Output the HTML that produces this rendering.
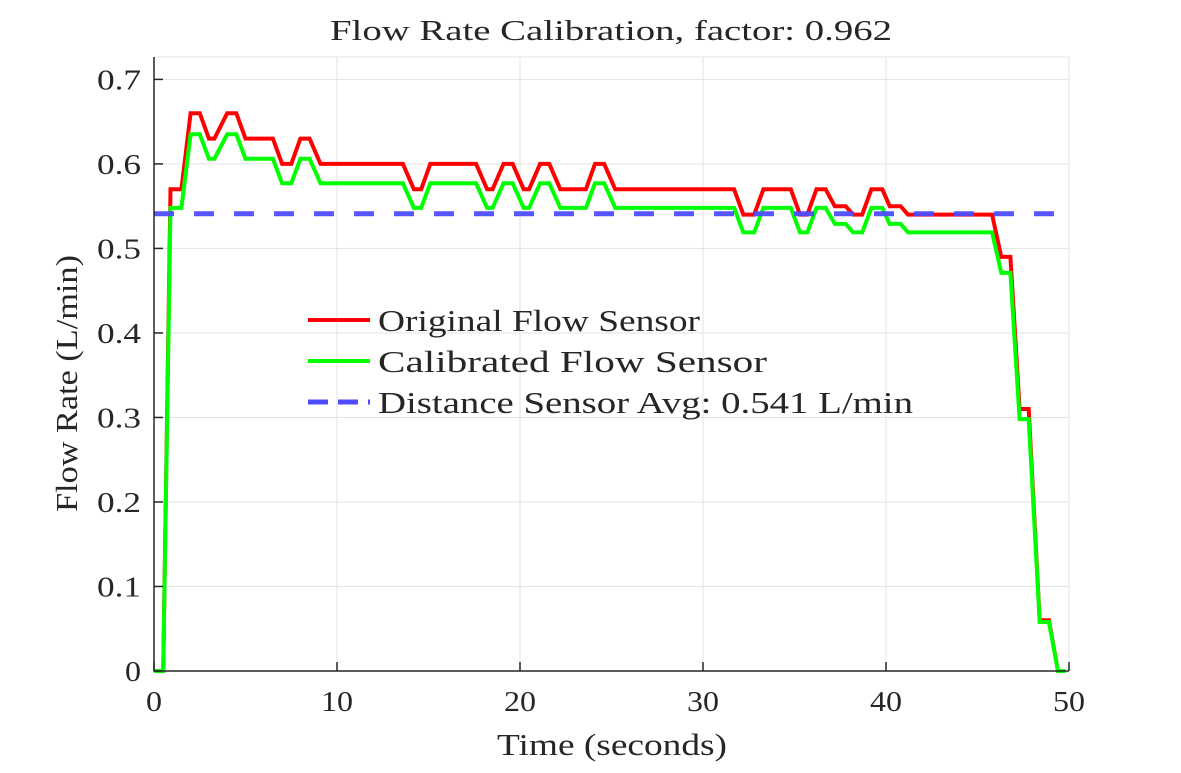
<!DOCTYPE html>
<html><head><meta charset="utf-8"><style>
body{margin:0;background:#fff;}
svg text{font-family:"Liberation Serif",serif;fill:#262626;}
</style></head><body>
<svg id="chart" width="1181" height="768" xmlns="http://www.w3.org/2000/svg">
<text x="330" y="40" font-size="29" textLength="562" lengthAdjust="spacingAndGlyphs">Flow Rate Calibration, factor: 0.962</text>
<g id="grid"></g>
<g id="series"></g>
<g id="axes"></g>
<text x="497" y="755" font-size="31" textLength="230" lengthAdjust="spacingAndGlyphs">Time (seconds)</text>
<text transform="translate(77,512) rotate(-90)" font-size="31" textLength="257" lengthAdjust="spacingAndGlyphs">Flow Rate (L/min)</text>
<g>
<line x1="308" y1="320" x2="370" y2="320" stroke="#ff0000" stroke-width="4"/>
<text x="378" y="331" font-size="31" textLength="322" lengthAdjust="spacingAndGlyphs">Original Flow Sensor</text>
<line x1="308" y1="361" x2="370" y2="361" stroke="#00ff00" stroke-width="4"/>
<text x="378" y="372" font-size="31" textLength="389" lengthAdjust="spacingAndGlyphs">Calibrated Flow Sensor</text>
<line x1="308" y1="402" x2="370" y2="402" stroke="#4d4dff" stroke-width="5" stroke-dasharray="20,10"/>
<text x="378" y="413" font-size="31" textLength="535" lengthAdjust="spacingAndGlyphs">Distance Sensor Avg: 0.541 L/min</text>
</g>
</svg>
<script>
const times = [0,0.5,0.9,1.5,2.0,2.5,3.0,3.3,4.0,4.5,5.0,6.5,7.0,7.5,8.0,8.5,9.1,13.6,14.2,14.6,15.1,17.6,18.2,18.5,19.1,19.6,20.2,20.5,21.1,21.6,22.2,23.6,24.1,24.6,25.2,31.7,32.2,32.8,33.3,34.8,35.3,35.7,36.2,36.7,37.2,37.8,38.2,38.7,39.2,39.8,40.2,40.8,41.2,45.8,46.3,46.8,47.3,47.8,48.4,48.9,49.4,49.8];
const original = [0,0,0.57,0.57,0.66,0.66,0.63,0.63,0.66,0.66,0.63,0.63,0.60,0.60,0.63,0.63,0.60,0.60,0.57,0.57,0.60,0.60,0.57,0.57,0.60,0.60,0.57,0.57,0.60,0.60,0.57,0.57,0.60,0.60,0.57,0.57,0.54,0.54,0.57,0.57,0.54,0.54,0.57,0.57,0.55,0.55,0.54,0.54,0.57,0.57,0.55,0.55,0.54,0.54,0.49,0.49,0.31,0.31,0.06,0.06,0,0];
const calibrated = [0,0,0.548,0.548,0.635,0.635,0.606,0.606,0.635,0.635,0.606,0.606,0.577,0.577,0.606,0.606,0.577,0.577,0.548,0.548,0.577,0.577,0.548,0.548,0.577,0.577,0.548,0.548,0.577,0.577,0.548,0.548,0.577,0.577,0.548,0.548,0.519,0.519,0.548,0.548,0.519,0.519,0.548,0.548,0.529,0.529,0.519,0.519,0.548,0.548,0.529,0.529,0.519,0.519,0.471,0.471,0.298,0.298,0.058,0.058,0,0];
const distanceAvg = [0.541];
const xTicks = [0,10,20,30,40,50];
const yTicks = [0,0.1,0.2,0.3,0.4,0.5,0.6,0.7];

const L=154,R=1069,T=57,B=671, X0=0,X1=50, Y0=0,Y1=0.7265;
const sx=v=>L+(v-X0)/(X1-X0)*(R-L);
const sy=v=>B-(v-Y0)/(Y1-Y0)*(B-T);
const NS='http://www.w3.org/2000/svg';
function mk(tag,attrs,parent){const e=document.createElementNS(NS,tag);for(const k in attrs)e.setAttribute(k,attrs[k]);parent.appendChild(e);return e;}
const grid=document.getElementById('grid'),axes=document.getElementById('axes'),series=document.getElementById('series');
mk('rect',{x:L,y:T,width:R-L,height:B-T,fill:'none',stroke:'#e6e6e6','stroke-width':1},grid);
xTicks.forEach(t=>{
 const g=mk('line',{x1:sx(t),x2:sx(t),y1:T,y2:B,stroke:'#e3e3e3','stroke-width':1},grid);
 
 
 const tk=mk('line',{x1:sx(t),x2:sx(t),y1:B,y2:B-9,stroke:'#262626','stroke-width':1.5},axes);
 
 
 const s=String(t);
 const tx=mk('text',{x:sx(t),y:B+40,'font-size':29,'text-anchor':'middle',textLength:s.length*16,lengthAdjust:'spacingAndGlyphs'},axes);
 tx.textContent=s;
 
 
});
yTicks.forEach(t=>{
 const g=mk('line',{x1:L,x2:R,y1:sy(t),y2:sy(t),stroke:'#e3e3e3','stroke-width':1},grid);
 
 
 const tk=mk('line',{x1:L,x2:L+9,y1:sy(t),y2:sy(t),stroke:'#262626','stroke-width':1.5},axes);
 
 
 const s=String(t);
 const w=s.length===1?16:44;
 const tx=mk('text',{x:141-w,y:sy(t)+10,'font-size':29,textLength:w,lengthAdjust:'spacingAndGlyphs'},axes);
 tx.textContent=s;
 
 
});
const ax=mk('path',{d:`M${L},${T}V${B}H${R}`,fill:'none',stroke:'#262626','stroke-width':1.5},axes);


function pathOf(vals){return vals.map((v,i)=>(i?'L':'M')+sx(times[i]).toFixed(1)+','+sy(v).toFixed(1)).join('');}
const pr=mk('path',{d:pathOf(original),fill:'none',stroke:'#ff0000','stroke-width':4,'stroke-linejoin':'miter'},series);


const pg=mk('path',{d:pathOf(calibrated),fill:'none',stroke:'#00ff00','stroke-width':4,'stroke-linejoin':'miter'},series);


const pd=mk('line',{x1:L,x2:R,y1:sy(distanceAvg[0]),y2:sy(distanceAvg[0]),stroke:'#4d4dff','stroke-width':5,'stroke-dasharray':'20,20','stroke-opacity':0.95},series);


</script>
</body></html>
